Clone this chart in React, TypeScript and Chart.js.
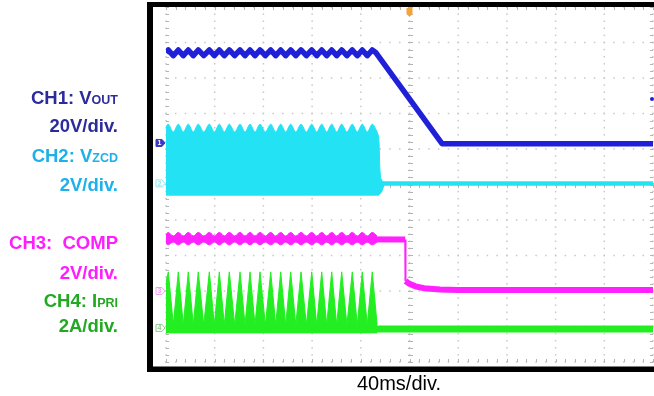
import React, { useEffect, useRef } from "react";
import { Chart, registerables } from "chart.js";

Chart.register(...registerables);

// ---- axes: time in ms (40 ms/div, trigger at 0), vertical in divisions ----
const timeMin = -200;
const timeMax = 200;
const divMin = -5;
const divMax = 5;

// ---- switching-burst cycle instants (ms) ----
const burstPeakTimes = [
  -198.1, -189.9, -181.7, -173.5, -164.4, -156.2, -148.0, -139.2, -131.0, -122.8, -114.0,
  -105.8, -97.6, -89.1, -80.3, -72.1, -63.9, -55.7, -47.0, -38.8, -30.6,
];
const burstValleyTimes = [
  -194.0, -185.8, -177.6, -169.0, -160.3, -152.1, -143.6, -135.1, -126.9, -118.4, -109.9,
  -101.7, -93.4, -84.7, -76.2, -68.0, -59.8, -51.4, -42.9, -34.7, -26.6,
];

// ---- CH1 VOUT (div) ----
const ch1StartLevel = 3.71;
const ch1RipplePeak = 3.79;
const ch1RippleValley = 3.63;
const ch1DecayTimes = [-27.5, 26.7, 200];
const ch1DecayLevels = [3.71, 1.15, 1.15];

// ---- CH2 VZCD (div) ----
const ch2TopStart = 1.62;
const ch2TopPeak = 1.7;
const ch2TopValley = 1.48;
const ch2FallTopTimes = [-25.2, -23.8, -21.0];
const ch2FallTopLevels = [1.3, 0.2, 0.03];
const ch2BottomTimes = [-200, -25.5, -23.0, -21.0];
const ch2BottomLevels = [-0.3, -0.3, -0.22, -0.03];
const ch2BaseTimes = [-200, 200];
const ch2BaseLevels = [0.03, 0.03];

// ---- CH3 COMP (div) ----
const ch3TopStart = -1.4;
const ch3TopPeak = -1.35;
const ch3TopValley = -1.45;
const ch3BottomStart = -1.66;
const ch3BottomPeak = -1.7;
const ch3BottomValley = -1.62;
const ch3Times = [-200, -3.5, -3.3, 0, 5, 12, 25, 40, 200];
const ch3Levels = [-1.53, -1.55, -2.72, -2.8, -2.87, -2.92, -2.96, -2.97, -2.97];

// ---- CH4 IPRI (div) ----
const ch4TopStart = -2.75;
const ch4Peak = -2.46;
const ch4Valley = -3.95;
const ch4BottomTimes = [-200, -26.6];
const ch4BottomLevels = [-4.18, -4.18];
const ch4BaseTimes = [-200, 200];
const ch4BaseLevels = [-4.07, -4.07];

// ---- scope markers ----
const channelMarkerLevels = [1.17, 0.03, -3.0, -4.04];
const channelMarkerDigits = ["1", "2", "3", "4"];
const triggerTime = 0;
const triggerLevel = 2.41;

// ---- labels ----
const labelMain = ["CH1: V", "20V/div.", "CH2: V", "2V/div.", "CH3:  COMP", "2V/div.", "CH4: I", "2A/div."];
const labelSub = ["OUT", "", "ZCD", "", "", "", "PRI", ""];
const xAxisTitle = "40ms/div.";

const C1 = "#2020d8";
const C2 = "#22e2f4";
const C3 = "#ff22ff";
const C4 = "#22ee22";
const L1 = "#2b2b9c";
const L2 = "#1eb0ea";
const L3 = "#ff1cff";
const L4 = "#22a822";
const labelColors = [L1, L1, L2, L2, L3, L3, L4, L4];
const labelCenters = [97.5, 126, 155.5, 185, 242.5, 272.5, 301, 326];

const pts = (xs: number[], ys: number[]) => xs.map((x, i) => ({ x, y: ys[i] }));
const cycle = (peak: number, valley: number) => {
  const out: { x: number; y: number }[] = [];
  burstPeakTimes.forEach((t, i) => {
    out.push({ x: t, y: peak });
    out.push({ x: burstValleyTimes[i], y: valley });
  });
  return out;
};

const gridPlugin = {
  id: "scopeGrid",
  beforeDatasetsDraw(chart: any) {
    const { ctx, scales } = chart;
    const xs = scales.x;
    const ys = scales.y;
    ctx.save();
    ctx.fillStyle = "#c8c8c8";
    for (let i = 0; i <= 10; i++) {
      const px = xs.getPixelForValue(timeMin + i * 40);
      for (let j = 0; j <= 50; j++) {
        const py = ys.getPixelForValue(divMin + j * 0.2);
        ctx.fillRect(px - 0.75, py - 0.75, 1.5, 1.5);
      }
    }
    for (let k = 0; k <= 10; k++) {
      const py = ys.getPixelForValue(divMin + k);
      for (let j = 0; j <= 50; j++) {
        const px = xs.getPixelForValue(timeMin + j * 8);
        ctx.fillRect(px - 0.75, py - 0.75, 1.5, 1.5);
      }
    }
    ctx.strokeStyle = "#b4b4b4";
    ctx.lineWidth = 1;
    const cx = Math.round(xs.getPixelForValue(0)) + 0.5;
    const cy = Math.round(ys.getPixelForValue(0)) + 0.5;
    const { left, right, top, bottom } = chart.chartArea;
    ctx.beginPath();
    for (let j = 0; j <= 50; j++) {
      const py = Math.round(ys.getPixelForValue(divMin + j * 0.2)) + 0.5;
      ctx.moveTo(cx - 2.5, py);
      ctx.lineTo(cx + 2.5, py);
      ctx.moveTo(left, py);
      ctx.lineTo(left + 3, py);
      ctx.moveTo(right, py);
      ctx.lineTo(right - 3, py);
    }
    for (let j = 0; j <= 50; j++) {
      const px = Math.round(xs.getPixelForValue(timeMin + j * 8)) + 0.5;
      ctx.moveTo(px, cy - 2.5);
      ctx.lineTo(px, cy + 2.5);
      ctx.moveTo(px, top);
      ctx.lineTo(px, top + 3);
      ctx.moveTo(px, bottom);
      ctx.lineTo(px, bottom - 3);
    }
    ctx.stroke();
    ctx.restore();
  },
};

const overlayPlugin = {
  id: "scopeOverlay",
  afterDraw(chart: any) {
    const { ctx, scales } = chart;
    const xs = scales.x;
    const ys = scales.y;
    const { left, top, bottom } = chart.chartArea;
    ctx.save();
    // frame
    ctx.fillStyle = "#000";
    ctx.fillRect(left - 19, top - 5, 6, bottom - top + 15);
    ctx.fillRect(left - 19, top - 5, 654, 5);
    ctx.fillRect(left - 19, bottom + 4.5, 654, 5.5);
    // channel markers
    const mcol = ["#3838c8", "#8fe6f0", "#f0a0f0", "#8fc88f"];
    channelMarkerLevels.forEach((lv, i) => {
      const py = ys.getPixelForValue(lv);
      const x0 = left - 10;
      ctx.strokeStyle = mcol[i];
      ctx.lineWidth = 1;
      ctx.beginPath();
      ctx.moveTo(x0, py - 3.5);
      ctx.lineTo(x0 + 6, py - 3.5);
      ctx.lineTo(x0 + 9, py);
      ctx.lineTo(x0 + 6, py + 3.5);
      ctx.lineTo(x0, py + 3.5);
      ctx.closePath();
      if (i === 0) {
        ctx.fillStyle = mcol[i];
        ctx.fill();
      }
      ctx.stroke();
      ctx.fillStyle = i === 0 ? "#ffffff" : mcol[i];
      ctx.font = "bold 7px 'Liberation Sans', Arial, sans-serif";
      ctx.textAlign = "center";
      ctx.textBaseline = "middle";
      ctx.fillText(channelMarkerDigits[i], x0 + 3.5, py + 0.5);
    });
    // trigger position marker
    const tx = xs.getPixelForValue(triggerTime);
    ctx.fillStyle = "#f2a43a";
    ctx.beginPath();
    ctx.moveTo(tx - 3, top + 1);
    ctx.lineTo(tx + 3, top + 1);
    ctx.lineTo(tx + 3, top + 7);
    ctx.lineTo(tx, top + 10);
    ctx.lineTo(tx - 3, top + 7);
    ctx.closePath();
    ctx.fill();
    // trigger level marker
    const ty = ys.getPixelForValue(triggerLevel);
    ctx.fillStyle = C1;
    ctx.beginPath();
    ctx.arc(652, ty, 2, 0, Math.PI * 2);
    ctx.fill();
    ctx.restore();
  },
};

export default function App() {
  const ref = useRef<HTMLCanvasElement | null>(null);

  useEffect(() => {
    if (!ref.current) return;
    const ch1Data = [{ x: timeMin, y: ch1StartLevel }, ...cycle(ch1RipplePeak, ch1RippleValley).slice(0, -1), ...pts(ch1DecayTimes, ch1DecayLevels)];
    const ch2Top = [{ x: timeMin, y: ch2TopStart }, ...cycle(ch2TopPeak, ch2TopValley), ...pts(ch2FallTopTimes, ch2FallTopLevels)];
    const ch2Bottom = pts(ch2BottomTimes, ch2BottomLevels);
    const ch3Top = [{ x: timeMin, y: ch3TopStart }, ...cycle(ch3TopPeak, ch3TopValley)];
    const ch3Bottom = [{ x: timeMin, y: ch3BottomStart }, ...cycle(ch3BottomPeak, ch3BottomValley)];
    const ch4Top = [{ x: timeMin, y: ch4TopStart }, ...cycle(ch4Peak, ch4Valley)];
    const ch4Bottom = pts(ch4BottomTimes, ch4BottomLevels);

    const band = (data: any, color: string, tension: number, fill: any) => ({
      data,
      borderColor: color,
      backgroundColor: color,
      borderWidth: 1,
      tension,
      fill,
      pointRadius: 0,
    });

    const chart = new Chart(ref.current, {
      type: "line",
      data: {
        datasets: [
          { label: "CH1", data: ch1Data, borderColor: C1, borderWidth: 5.5, borderJoinStyle: "round", pointRadius: 0, fill: false, tension: 0 },
          band(ch2Top, C2, 0.3, "+1"),
          band(ch2Bottom, C2, 0, false),
          { label: "CH2", data: pts(ch2BaseTimes, ch2BaseLevels), borderColor: C2, borderWidth: 4.5, pointRadius: 0, fill: false },
          band(ch3Top, C3, 0.4, "+1"),
          band(ch3Bottom, C3, 0.4, false),
          {
            label: "CH3",
            data: pts(ch3Times, ch3Levels),
            borderColor: C3,
            borderWidth: 6,
            pointRadius: 0,
            fill: false,
            tension: 0,
            segment: { borderWidth: (c: any) => (c.p0DataIndex === 1 ? 2 : undefined) },
          },
          band(ch4Top, C4, 0, "+1"),
          band(ch4Bottom, C4, 0, false),
          { label: "CH4", data: pts(ch4BaseTimes, ch4BaseLevels), borderColor: C4, borderWidth: 7, pointRadius: 0, fill: false },
        ] as any,
      },
      options: {
        animation: false,
        responsive: false,
        maintainAspectRatio: false,
        devicePixelRatio: 1,
        layout: { padding: { left: 166, right: 1, top: 7, bottom: 34 } },
        scales: {
          x: { type: "linear", min: timeMin, max: timeMax, display: false },
          y: { type: "linear", min: divMin, max: divMax, display: false },
        },
        plugins: { legend: { display: false }, tooltip: { enabled: false } },
        elements: { point: { radius: 0 } },
      } as any,
      plugins: [gridPlugin, overlayPlugin],
    });
    return () => chart.destroy();
  }, []);

  const font = "'Liberation Sans', Arial, Helvetica, sans-serif";
  return (
    <div style={{ position: "absolute", left: 0, top: 0, width: 654, height: 396, background: "#fff", fontFamily: font, overflow: "hidden" }}>
      <canvas ref={ref} width={654} height={396} style={{ position: "absolute", left: 0, top: 0, width: 654, height: 396 }} />
      {labelMain.map((t, i) => (
        <div
          key={i}
          style={{
            position: "absolute",
            right: 654 - 118,
            top: labelCenters[i] - 11,
            lineHeight: "22px",
            fontSize: 18.5,
            fontWeight: "bold",
            whiteSpace: "pre",
            color: labelColors[i],
          }}
        >
          {t}
          {labelSub[i] ? <span style={{ fontSize: 12.5 }}>{labelSub[i]}</span> : null}
        </div>
      ))}
      <div style={{ position: "absolute", left: 299, width: 200, top: 371, lineHeight: "24px", fontSize: 20, textAlign: "center", color: "#000" }}>
        {xAxisTitle}
      </div>
    </div>
  );
}
